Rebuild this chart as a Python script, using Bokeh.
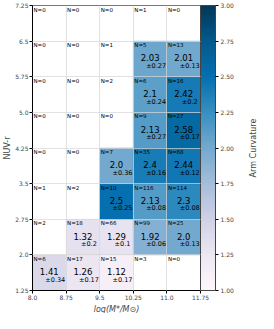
import numpy as np
from bokeh.plotting import figure
from bokeh.layouts import row
from bokeh.models import (ColumnDataSource, LinearColorMapper, ColorBar, FixedTicker,
                          PrintfTickFormatter, Range1d, Title)
from bokeh.embed import file_html
from bokeh.resources import INLINE
from bokeh.core.properties import value

# ---- data ----
x_edges = [8.0, 8.75, 9.5, 10.25, 11.0, 11.75]
y_edges = [1.25, 2.0, 2.75, 3.5, 4.25, 5.0, 5.75, 6.5, 7.25]
x_tick_labels = ["8.0", "8.75", "9.5", "10.25", "11.0", "11.75"]
y_tick_labels = ["1.25", "2.0", "2.75", "3.5", "4.25", "5.0", "5.75", "6.5", "7.25"]

# rows from bottom (NUV-r 1.25-2.0) to top; columns by mass bin
counts = [
    [6, 17, 15, 3, 0],
    [2, 18, 66, 99, 25],
    [1, 2, 10, 116, 114],
    [0, 0, 7, 35, 68],
    [0, 0, 0, 9, 27],
    [0, 0, 2, 6, 16],
    [0, 0, 1, 5, 13],
    [0, 0, 0, 1, 0],
]
means = [
    [1.41, 1.26, 1.12, None, None],
    [None, 1.32, 1.29, 1.92, 2.0],
    [None, None, 2.5, 2.13, 2.3],
    [None, None, 2.0, 2.4, 2.44],
    [None, None, None, 2.13, 2.58],
    [None, None, None, 2.1, 2.42],
    [None, None, None, 2.03, 2.01],
    [None, None, None, None, None],
]
errs = [
    [0.34, 0.17, 0.17, None, None],
    [None, 0.2, 0.1, 0.06, 0.13],
    [None, None, 0.25, 0.08, 0.08],
    [None, None, 0.36, 0.16, 0.12],
    [None, None, None, 0.27, 0.17],
    [None, None, None, 0.24, 0.2],
    [None, None, None, 0.27, 0.13],
    [None, None, None, None, None],
]
cbar_ticks = [1.0, 1.25, 1.5, 1.75, 2.0, 2.25, 2.5, 2.75, 3.0]
cbar_low, cbar_high = 1.0, 3.0
cbar_title = "Arm Curvature"
x_title = "log(M*/M\u2299)"
y_title = "NUV-r"

# ---- colormap (PuBu) ----
PUBU9 = ["#fff7fb", "#ece7f2", "#d0d1e6", "#a6bddb", "#74a9cf",
         "#3690c0", "#0570b0", "#045a8d", "#023858"]


def interp_palette(colors, n):
    rgb = np.array([[int(c[i:i + 2], 16) for i in (1, 3, 5)] for c in colors], float)
    pos = np.linspace(0, 1, len(colors))
    out = []
    for t in np.linspace(0, 1, n):
        r = np.interp(t, pos, rgb[:, 0])
        g = np.interp(t, pos, rgb[:, 1])
        b = np.interp(t, pos, rgb[:, 2])
        out.append("#%02x%02x%02x" % (int(round(r)), int(round(g)), int(round(b))))
    return out


palette = interp_palette(PUBU9, 256)
mapper = LinearColorMapper(palette=palette, low=cbar_low, high=cbar_high)

# ---- build cell sources ----
all_c = dict(xl=[], yt=[], ntext=[])
col_c = dict(xc=[], yc=[], w=[], h=[], mean=[], mtext=[], etext=[])
for i in range(len(y_edges) - 1):
    for j in range(len(x_edges) - 1):
        x0, x1 = x_edges[j], x_edges[j + 1]
        y0, y1 = y_edges[i], y_edges[i + 1]
        all_c["xl"].append(x0)
        all_c["yt"].append(y1)
        all_c["ntext"].append("N=%d" % counts[i][j])
        m = means[i][j]
        if m is not None:
            col_c["xc"].append((x0 + x1) / 2)
            col_c["yc"].append((y0 + y1) / 2)
            col_c["w"].append(x1 - x0)
            col_c["h"].append(y1 - y0)
            col_c["mean"].append(m)
            col_c["mtext"].append(str(m))
            col_c["etext"].append("\u00b1" + str(errs[i][j]))

src_all = ColumnDataSource(all_c)
src_col = ColumnDataSource(col_c)

FONT = "DejaVu Sans"
H = 313
TOP, BOTTOM = 5, 2
W_MAIN, W_LAB = 245, 13

p = figure(width=W_MAIN, height=H, output_backend="svg", toolbar_location=None,
           x_range=Range1d(x_edges[0], x_edges[-1]), y_range=Range1d(y_edges[0], y_edges[-1]),
           min_border_left=4, min_border_right=45, min_border_top=TOP,
           min_border_bottom=BOTTOM)
p.outline_line_color = "#777777"
p.background_fill_color = "white"
p.border_fill_color = "white"

p.rect(x="xc", y="yc", width="w", height="h", source=src_col,
       fill_color={"field": "mean", "transform": mapper},
       line_color={"field": "mean", "transform": mapper}, line_width=0.5)

p.text(x="xl", y="yt", text="ntext", source=src_all, text_font=value(FONT),
       text_font_size="5.5px", text_align="left", text_baseline="top",
       x_offset=1, y_offset=1, text_color="black")
p.text(x="xc", y="yc", text="mtext", source=src_col, text_font=value(FONT),
       text_font_size="8.5px", text_align="center", text_baseline="middle",
       y_offset=-1, text_color="black")
p.text(x="xc", y="yc", text="etext", source=src_col, text_font=value(FONT),
       text_font_size="6.5px", text_align="center", text_baseline="middle",
       x_offset=6, y_offset=7, text_color="black")

# grid drawn over the cells
for g in (p.xgrid, p.ygrid):
    g.level = "overlay"
    g.grid_line_color = "#d6d6d6"
    g.grid_line_alpha = 0.7
    g.grid_line_width = 1
p.xgrid.ticker = FixedTicker(ticks=x_edges)
p.ygrid.ticker = FixedTicker(ticks=y_edges)

# axes
p.xaxis.ticker = FixedTicker(ticks=x_edges)
p.yaxis.ticker = FixedTicker(ticks=y_edges)
p.xaxis.major_label_overrides = {float(v): s for v, s in zip(x_edges, x_tick_labels)}
p.yaxis.major_label_overrides = {float(v): s for v, s in zip(y_edges, y_tick_labels)}
for ax in (p.xaxis[0], p.yaxis[0]):
    ax.major_label_text_font = FONT
    ax.major_label_text_font_size = "6px"
    ax.major_tick_out = 3
    ax.major_tick_in = 0
    ax.minor_tick_out = 0
    ax.minor_tick_in = 0
    ax.major_label_standoff = 1
    ax.axis_line_color = "black"
    ax.major_tick_line_color = "black"
    ax.axis_label_text_font = FONT
    ax.axis_label_text_font_size = "8px"
    ax.axis_label_standoff = 0
p.yaxis.axis_label = y_title
p.yaxis.axis_label_text_font_style = "normal"

# x-axis title as a 'below' Title (tighter than the axis label panel)
p.add_layout(Title(text=x_title, align="center", text_font=FONT, text_font_size="8px",
                   text_font_style="italic", standoff=0, offset=0,
                   text_line_height=1.0), "below")

cb = ColorBar(color_mapper=mapper, ticker=FixedTicker(ticks=cbar_ticks),
              formatter=PrintfTickFormatter(format="%.2f"),
              width=15, margin=12, padding=0,
              major_label_text_font=FONT, major_label_text_font_size="6px",
              major_tick_out=3, major_tick_in=0, major_tick_line_color="black",
              minor_tick_line_color=None,
              bar_line_color="#444444", label_standoff=2,
              background_fill_alpha=0, border_line_color=None)
p.add_layout(cb, "right")

# companion strip carrying the colour-bar title (reads bottom-to-top)
q = figure(width=W_LAB, height=H, output_backend="svg", toolbar_location=None,
           x_range=Range1d(0, 1), y_range=Range1d(0, 1),
           min_border_left=0, min_border_right=0, min_border_top=TOP,
           min_border_bottom=22)
q.outline_line_color = None
q.background_fill_alpha = 0
q.border_fill_color = "white"
q.xaxis.visible = False
q.grid.visible = False
q.yaxis.ticker = FixedTicker(ticks=[])
q.yaxis.axis_line_color = None
q.yaxis.major_tick_line_color = None
q.yaxis.minor_tick_line_color = None
q.yaxis.major_label_text_font_size = "0px"
q.yaxis.major_label_standoff = 0
q.yaxis.axis_label = cbar_title
q.yaxis.axis_label_text_font = FONT
q.yaxis.axis_label_text_font_size = "8px"
q.yaxis.axis_label_text_font_style = "normal"
q.yaxis.axis_label_standoff = 0

layout = row(p, q)
open("out.html", "w").write(file_html(layout, INLINE))
